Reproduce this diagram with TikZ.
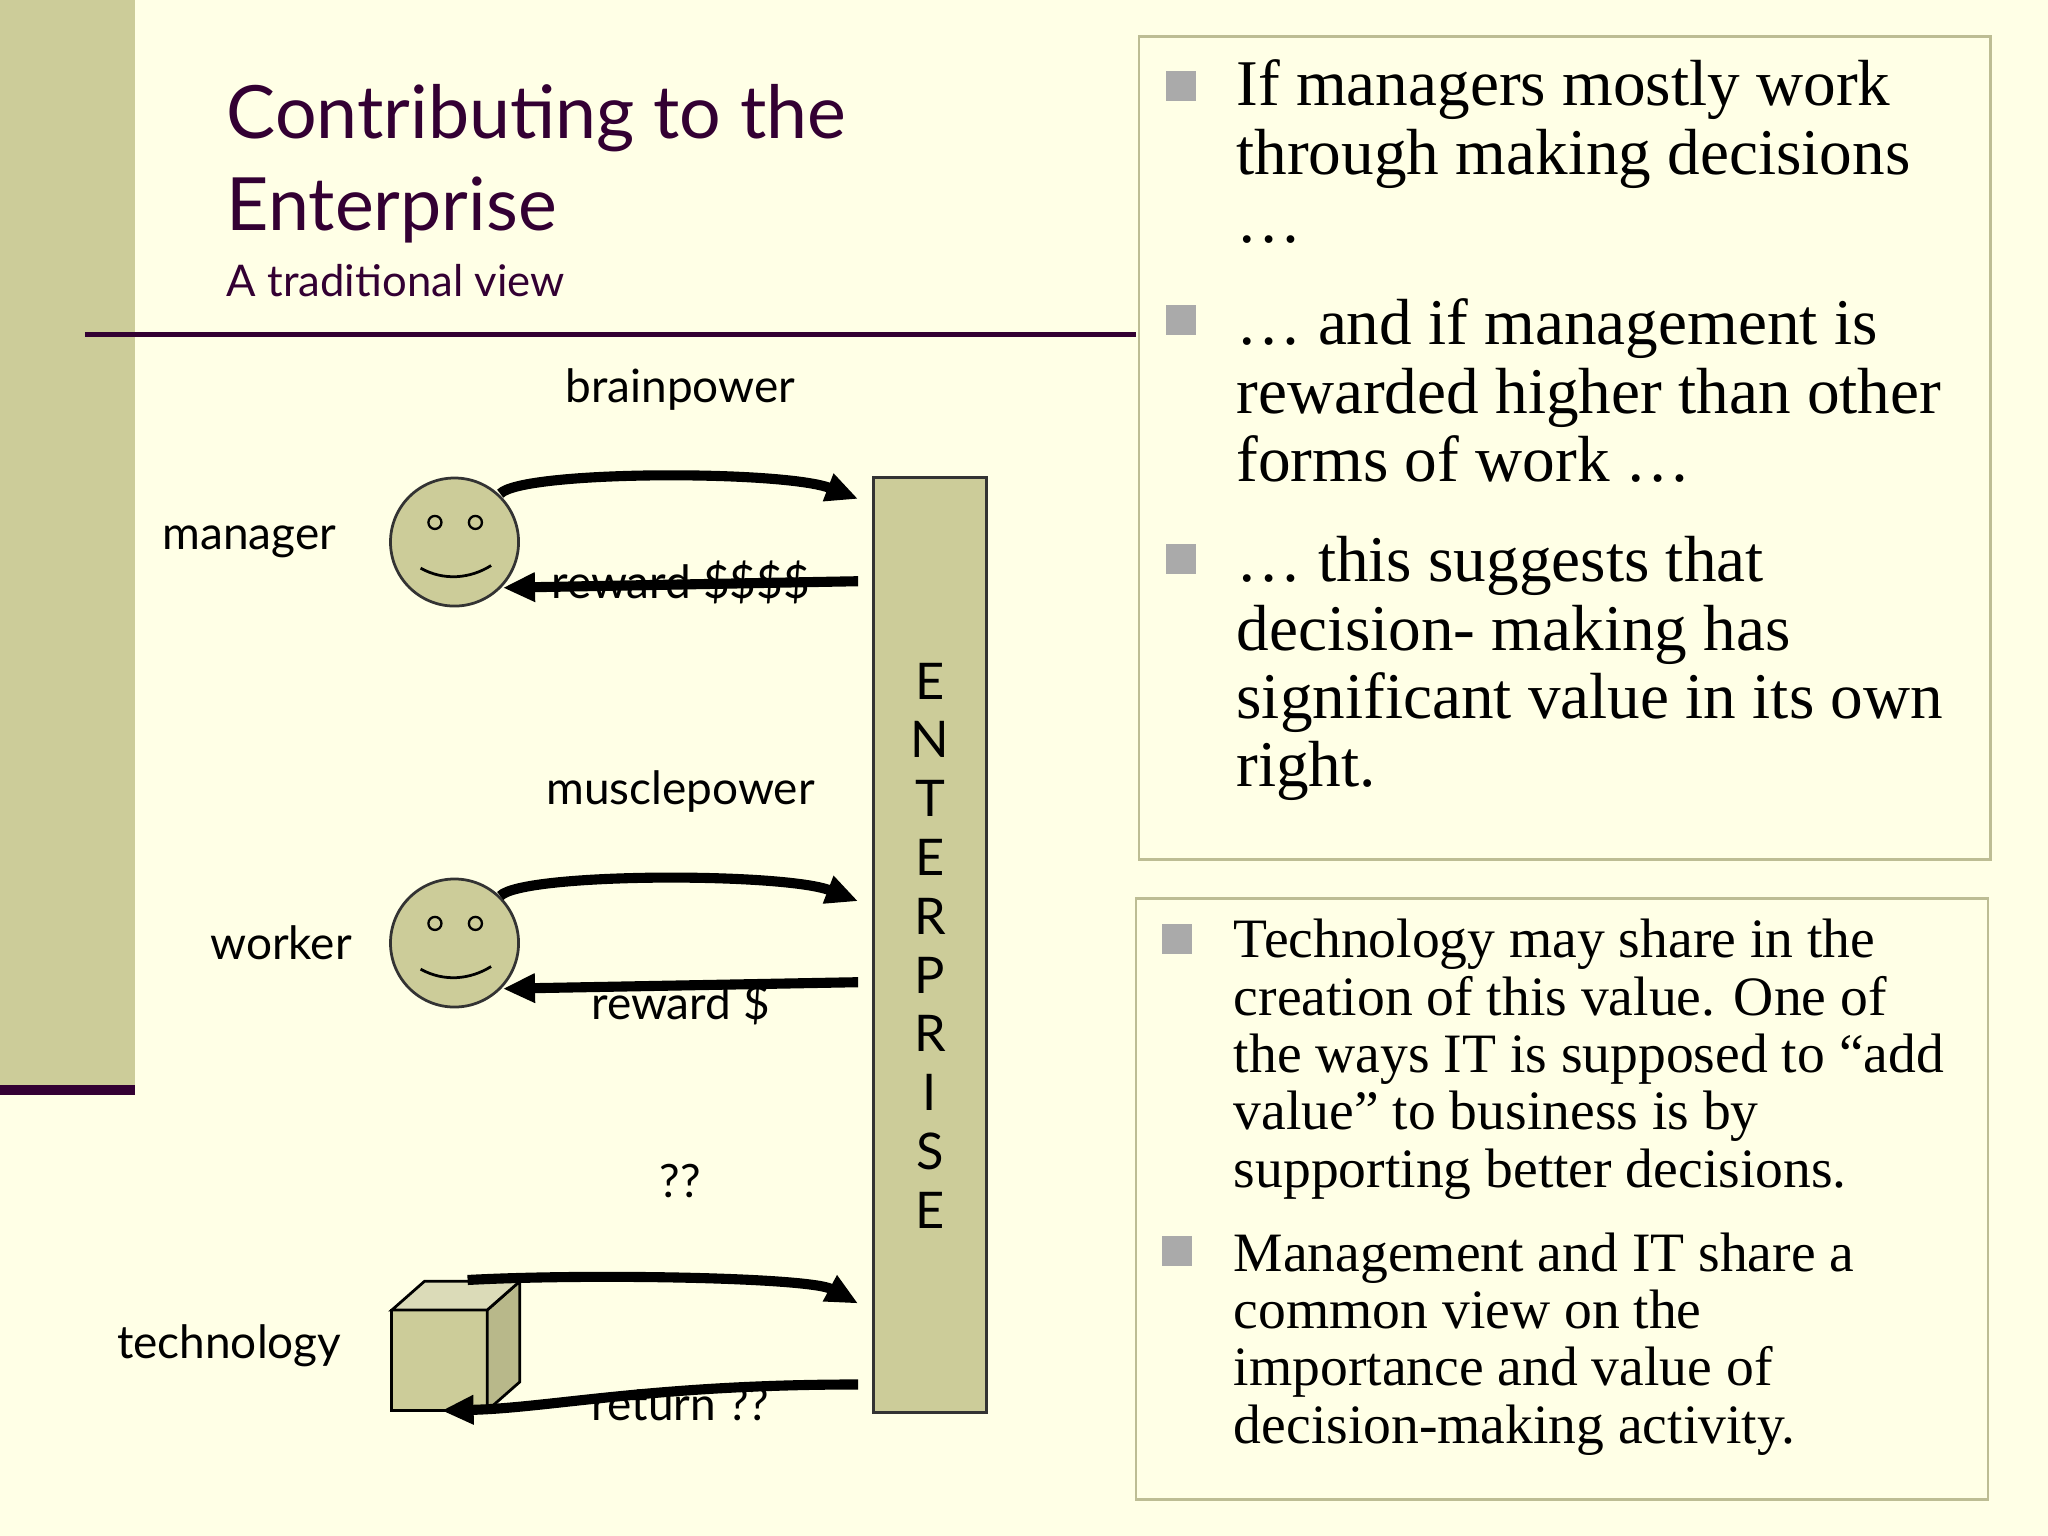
\documentclass[tikz,border=0pt]{standalone}
\usepackage{fontspec}
\setmainfont{Liberation Serif}
\newfontfamily\gill{Lato}
\usetikzlibrary{arrows.meta}
\definecolor{bg}{HTML}{FFFFE6}
\definecolor{olive}{HTML}{CCCC99}
\definecolor{plum}{HTML}{330033}
\definecolor{bul}{HTML}{AAAAAA}
\tikzset{
  x=0.01cm,y=-0.01cm,
  lbl/.style={font=\gill\fontsize{10}{12}\selectfont,inner sep=0pt},
  flow/.style={line width=2.2pt,-{Triangle[length=7pt,width=6pt]}},
  face/.style={circle,draw=black!80,fill=olive,minimum size=0.98cm,inner sep=0pt,line width=0.6pt},
  bx/.style={draw=olive!80!gray,line width=0.5pt},
  btext/.style={anchor=north west,align=left,inner sep=0pt},
  bsq/.style={fill=bul,minimum size=0.23cm,inner sep=0pt}
}
\begin{document}
\begin{tikzpicture}
\useasboundingbox (0,0) rectangle (1568,1176);
\fill[bg] (0,0) rectangle (1568,1176);
\fill[olive] (0,0) rectangle (103,835);
\fill[plum] (0,831) rectangle (103,838);
\draw[plum,line width=1.2pt] (65,256) -- (870,256);
\node[btext,text=plum,font=\gill\fontsize{16}{20}\selectfont] (title) at (173,64) {Contributing to the\\Enterprise};
\node[btext,text=plum,font=\gill\fontsize{9.5}{12}\selectfont] (sub) at (173,202) {A traditional view};
% right boxes
\draw[bx] (872,28) rectangle (1524,658);
\draw[bx] (870,688) rectangle (1522,1148);
\node[bsq] (b1) at (904,66) {};
\node[bsq] (b2) at (904,245) {};
\node[bsq] (b3) at (904,428) {};
\node[bsq] (b4) at (901,719) {};
\node[bsq] (b5) at (901,958) {};
\begin{scope}[every node/.style={btext,font=\fontsize{14.2}{14.9}\selectfont}]
\node (t1) at (946,45) {If managers mostly work\\through making decisions\\\ldots};
\node (t2) at (946,228) {\ldots\ and if management is\\rewarded higher than other\\forms of work \ldots};
\node (t3) at (946,410) {\ldots\ this suggests that\\decision- making has\\significant value in its own\\right.};
\end{scope}
\begin{scope}[every node/.style={btext,font=\fontsize{12.1}{12.5}\selectfont}]
\node (t4) at (944,703) {Technology may share in the\\creation of this value. One of\\the ways IT is supposed to ``add\\value'' to business is by\\supporting better decisions.};
\node (t5) at (944,943) {Management and IT share a\\common view on the\\importance and value of\\decision-making activity.};
\end{scope}
% enterprise
\node[draw=black!80,fill=olive,line width=0.6pt,minimum width=0.86cm,minimum height=7.15cm,inner sep=0pt] (ent) at (712,723.5) {};
\node[lbl,align=center,font=\gill\fontsize{11}{12.8}\selectfont] (entt) at (712,724) {E\\N\\T\\E\\R\\P\\R\\I\\S\\E};
% faces
\foreach \n/\yy in {mgr/415,wkr/722}{
  \node[face] (\n) at (348,\yy) {};
  \draw[line width=0.5pt] (333,\yy-15) circle (5) (364,\yy-15) circle (5);
  \draw[line width=0.6pt] (322,\yy+20) .. controls (340,\yy+30) and (360,\yy+28) .. (376,\yy+18);
}
% cube
\draw[line width=0.6pt,fill=olive] (300,1003) rectangle (373,1080);
\draw[line width=0.6pt,fill=olive!90!black] (373,1003) -- (398,981) -- (398,1058) -- (373,1080) -- cycle;
\draw[line width=0.6pt,fill=olive!70!white] (300,1003) -- (325,981) -- (398,981) -- (373,1003) -- cycle;
% labels
\node[lbl,anchor=east] (lm) at (258,415) {manager};
\node[lbl,anchor=east] (lw) at (270,722) {worker};
\node[lbl,anchor=east] (lt) at (262,1030) {technology};
\node[lbl] (bp) at (521,298) {brainpower};
\node[lbl] (mp) at (521,606) {musclepower};
\node[lbl] (qq) at (521,904) {??};
% arrows
\coordinate (m1) at (383,378); \coordinate (m2) at (657,382);
\draw[flow] (m1) .. controls (400,360) and (600,360) .. (m2);
\coordinate (w1) at (383,686); \coordinate (w2) at (657,690);
\draw[flow] (w1) .. controls (400,668) and (600,668) .. (w2);
\coordinate (c1) at (358,980); \coordinate (c2) at (657,998);
\draw[flow] (c1) .. controls (450,975) and (620,978) .. (c2);
\coordinate (mr) at (657,445); \coordinate (mr2) at (385,450);
\draw[flow] (mr) -- (mr2);
\coordinate (wr) at (657,752); \coordinate (wr2) at (385,757);
\draw[flow] (wr) -- (wr2);
\coordinate (tr) at (657,1060); \coordinate (tr2) at (338,1080);
\draw[flow] (tr) .. controls (500,1060) and (420,1078) .. (tr2);
\node[lbl] (rm) at (521,446) {reward \$\$\$\$};
\node[lbl] (rw) at (521,768) {reward \$};
\node[lbl] (rt) at (521,1075) {return ??};
\end{tikzpicture}
\end{document}
